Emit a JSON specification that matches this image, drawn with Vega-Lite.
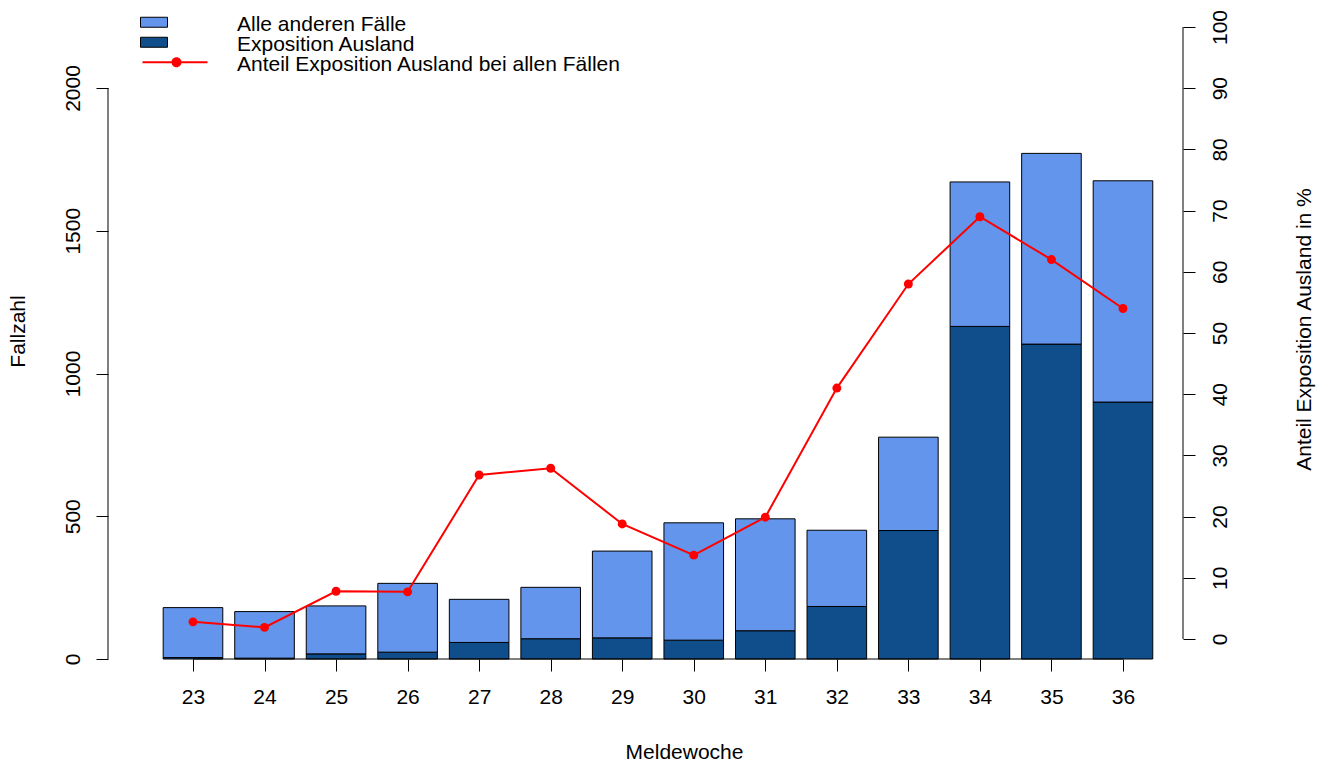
{
  "$schema": "https://vega.github.io/schema/vega-lite/v6.json",
  "width": 1075,
  "height": 632,
  "autosize": {"type": "none"},
  "padding": {"left": 108, "top": 27, "right": 140, "bottom": 103},
  "background": "white",
  "config": {
    "view": {"stroke": null},
    "font": "Liberation Sans",
    "axis": {
      "grid": false,
      "domain": false,
      "tickColor": "black",
      "labelColor": "black",
      "titleColor": "black",
      "labelFontSize": 21,
      "titleFontSize": 21,
      "titleFontWeight": "normal",
      "tickSize": 12,
      "labelFont": "Liberation Sans",
      "titleFont": "Liberation Sans"
    },
    "legend": {
      "labelFont": "Liberation Sans",
      "labelColor": "black"
    }
  },
  "resolve": {"scale": {"y": "independent"}},
  "layer": [
    {
      "data": {
        "values": [
          {"woche": 23, "kat": "Exposition Ausland", "n": 5},
          {"woche": 23, "kat": "Alle anderen Fälle", "n": 175},
          {"woche": 24, "kat": "Exposition Ausland", "n": 3},
          {"woche": 24, "kat": "Alle anderen Fälle", "n": 163},
          {"woche": 25, "kat": "Exposition Ausland", "n": 18},
          {"woche": 25, "kat": "Alle anderen Fälle", "n": 168},
          {"woche": 26, "kat": "Exposition Ausland", "n": 24},
          {"woche": 26, "kat": "Alle anderen Fälle", "n": 241},
          {"woche": 27, "kat": "Exposition Ausland", "n": 58},
          {"woche": 27, "kat": "Alle anderen Fälle", "n": 151},
          {"woche": 28, "kat": "Exposition Ausland", "n": 71},
          {"woche": 28, "kat": "Alle anderen Fälle", "n": 180},
          {"woche": 29, "kat": "Exposition Ausland", "n": 74},
          {"woche": 29, "kat": "Alle anderen Fälle", "n": 304},
          {"woche": 30, "kat": "Exposition Ausland", "n": 66},
          {"woche": 30, "kat": "Alle anderen Fälle", "n": 411},
          {"woche": 31, "kat": "Exposition Ausland", "n": 99},
          {"woche": 31, "kat": "Alle anderen Fälle", "n": 392},
          {"woche": 32, "kat": "Exposition Ausland", "n": 184},
          {"woche": 32, "kat": "Alle anderen Fälle", "n": 267},
          {"woche": 33, "kat": "Exposition Ausland", "n": 450},
          {"woche": 33, "kat": "Alle anderen Fälle", "n": 327},
          {"woche": 34, "kat": "Exposition Ausland", "n": 1165},
          {"woche": 34, "kat": "Alle anderen Fälle", "n": 506},
          {"woche": 35, "kat": "Exposition Ausland", "n": 1103},
          {"woche": 35, "kat": "Alle anderen Fälle", "n": 668},
          {"woche": 36, "kat": "Exposition Ausland", "n": 900},
          {"woche": 36, "kat": "Alle anderen Fälle", "n": 775}
        ]
      },
      "layer": [
        {
          "mark": {"type": "bar", "width": 59.6, "stroke": "black", "opacity": 1},
          "encoding": {
            "x": {
              "field": "woche",
              "type": "quantitative",
              "scale": {"domain": [21.812, 36.839], "nice": false, "zero": false, "padding": 0},
              "axis": {
                "values": [23, 24, 25, 26, 27, 28, 29, 30, 31, 32, 33, 34, 35, 36],
                "format": "d",
                "title": "Meldewoche",
                "labelPadding": 15,
                "titleX": 576,
                "titleY": 93,
                "titleAlign": "center",
                "titleBaseline": "middle"
              }
            },
            "y": {
              "field": "n",
              "type": "quantitative",
              "stack": "zero",
              "scale": {"domain": [0, 2213.7], "nice": false, "zero": true},
              "axis": {
                "values": [0, 500, 1000, 1500, 2000],
                "format": "d",
                "title": "Fallzahl",
                "labelAngle": -90,
                "labelAlign": "center",
                "labelBaseline": "bottom",
                "labelPadding": 13,
                "titleAngle": -90,
                "titleX": -90,
                "titleY": 304,
                "titleAlign": "center",
                "titleBaseline": "middle"
              }
            },
            "color": {
              "field": "kat",
              "type": "nominal",
              "scale": {
                "domain": ["Alle anderen Fälle", "Exposition Ausland", "Anteil Exposition Ausland bei allen Fällen"],
                "range": ["#6495ED", "#104E8B", "#FF0000"]
              },
              "legend": {
                "orient": "none",
                "legendX": 32,
                "legendY": -12,
                "title": null,
                "symbolSize": 400,
                "symbolOpacity": 1,
                "symbolType": {"expr": "datum.value === 'Anteil Exposition Ausland bei allen Fällen' ? 'M-0.8,-0.35H5.7V-0.15H-0.8Z M3.1,-0.25A0.5,0.5 0 1,1 2.1,-0.25A0.5,0.5 0 1,1 3.1,-0.25Z' : 'M-1,-0.75H1.7V0.25H-1Z'"},
                "symbolStrokeWidth": {"expr": "datum.value === 'Anteil Exposition Ausland bei allen Fällen' ? 0 : 1"},
                "symbolStrokeColor": "black",
                "labelOffset": 76,
                "labelFontSize": 21,
                "labelLimit": 0,
                "rowPadding": -4.5,
                "padding": 0,
                "clipHeight": 19.5
              }
            },
            "order": {"field": "kat", "sort": "descending"}
          }
        },
        {
          "data": {"values": [{}]},
          "mark": {"type": "rule", "color": "black", "strokeWidth": 1},
          "encoding": {
            "x": {"datum": 23, "type": "quantitative"},
            "x2": {"datum": 36},
            "y": {"datum": 0, "type": "quantitative"}
          }
        },
        {
          "data": {"values": [{}]},
          "mark": {"type": "rule", "color": "black", "strokeWidth": 1},
          "encoding": {
            "x": {"datum": 21.812, "type": "quantitative"},
            "y": {"datum": 0, "type": "quantitative"},
            "y2": {"datum": 2000}
          }
        }
      ]
    },
    {
      "data": {
        "values": [
          {"woche": 23, "anteil": 2.8},
          {"woche": 24, "anteil": 1.9},
          {"woche": 25, "anteil": 7.8},
          {"woche": 26, "anteil": 7.7},
          {"woche": 27, "anteil": 26.8},
          {"woche": 28, "anteil": 27.9},
          {"woche": 29, "anteil": 18.8},
          {"woche": 30, "anteil": 13.7},
          {"woche": 31, "anteil": 19.9},
          {"woche": 32, "anteil": 41.0},
          {"woche": 33, "anteil": 58.0},
          {"woche": 34, "anteil": 69.0},
          {"woche": 35, "anteil": 62.0},
          {"woche": 36, "anteil": 54.0}
        ]
      },
      "layer": [
        {
          "mark": {"type": "line", "strokeWidth": 2, "color": "#FF0000"},
          "encoding": {
            "x": {"field": "woche", "type": "quantitative"},
            "y": {
              "field": "anteil",
              "type": "quantitative",
              "scale": {"domain": [-3.27, 100], "nice": false, "zero": false},
              "axis": {
                "orient": "right",
                "values": [0, 10, 20, 30, 40, 50, 60, 70, 80, 90, 100],
                "title": "Anteil Exposition Ausland in %",
                "labelAngle": -90,
                "labelAlign": "center",
                "labelBaseline": "top",
                "labelPadding": 14,
                "titleAngle": -90,
                "titleX": 121,
                "titleY": 302,
                "titleAlign": "center",
                "titleBaseline": "middle"
              }
            }
          }
        },
        {
          "mark": {"type": "point", "filled": true, "size": 80, "opacity": 1, "color": "#FF0000"},
          "encoding": {
            "x": {"field": "woche", "type": "quantitative"},
            "y": {"field": "anteil", "type": "quantitative"}
          }
        },
        {
          "data": {"values": [{}]},
          "mark": {"type": "rule", "color": "black", "strokeWidth": 1},
          "encoding": {
            "x": {"datum": 36.839, "type": "quantitative"},
            "y": {"datum": 0, "type": "quantitative"},
            "y2": {"datum": 100}
          }
        }
      ]
    }
  ]
}
